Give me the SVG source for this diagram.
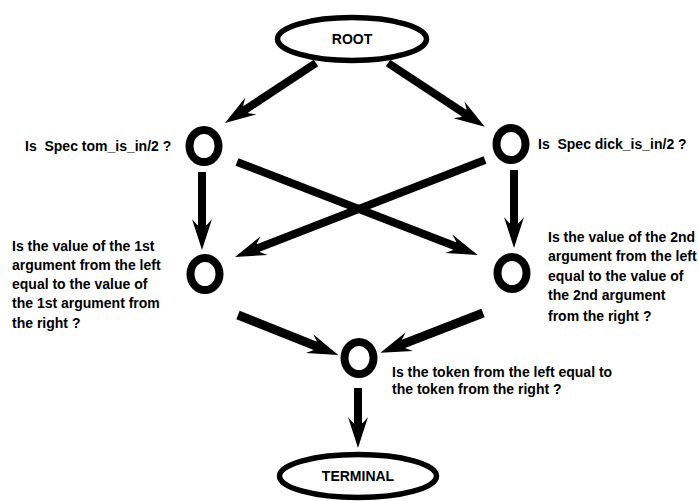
<svg xmlns="http://www.w3.org/2000/svg" width="699" height="501" viewBox="0 0 699 501">
<style>
  .bg { fill: #ffffff; }
  .node { fill: none; stroke: #000; stroke-width: 8; }
  .term { fill: none; stroke: #000; stroke-width: 5.5; }
  .lbl { font-family: "Liberation Sans", Arial, Helvetica, sans-serif; font-size: 14px; font-weight: bold; fill: #000; }
  .mid { text-anchor: middle; }
  .shaft { stroke: #000; stroke-width: 8; stroke-linecap: butt; }
  .thick { stroke-width: 9; }
  .head { fill: #000; }
</style>
<defs>
  <path id="ah" class="head" d="M0,0 L-31,-10 L-25,-4.8 L-25,4.8 L-31,10 Z"/>
</defs>
<rect class="bg" x="0" y="0" width="699" height="501"/>

<g id="connectors">
  <g transform="translate(316,63) rotate(146.6)"><line class="shaft" x1="0" y1="0" x2="85" y2="0"/><use href="#ah" x="109"/></g>
  <g transform="translate(388,63) rotate(33.4)"><line class="shaft" x1="0" y1="0" x2="92" y2="0"/><use href="#ah" x="116"/></g>
  <g transform="translate(202,172) rotate(90)"><line class="shaft" x1="0" y1="0" x2="54" y2="0"/><use href="#ah" x="78"/></g>
  <g transform="translate(514,170) rotate(90)"><line class="shaft" x1="0" y1="0" x2="54" y2="0"/><use href="#ah" x="78"/></g>
  <g transform="translate(237,162) rotate(21.1)"><line class="shaft" x1="0" y1="0" x2="234" y2="0"/><use href="#ah" x="258"/></g>
  <g transform="translate(485,160) rotate(158.8)"><line class="shaft" x1="0" y1="0" x2="244" y2="0"/><use href="#ah" x="268"/></g>
  <g transform="translate(238,315) rotate(21.8)"><line class="shaft thick" x1="0" y1="0" x2="84" y2="0"/><use href="#ah" x="108"/></g>
  <g transform="translate(483,313) rotate(158.8)"><line class="shaft thick" x1="0" y1="0" x2="86" y2="0"/><use href="#ah" x="110"/></g>
  <g transform="translate(358,388) rotate(90)"><line class="shaft" x1="0" y1="0" x2="36" y2="0"/><use href="#ah" x="60"/></g>
</g>

<g id="root">
  <ellipse class="term" cx="352" cy="39" rx="74.5" ry="21.5"/>
  <text class="lbl mid" x="352" y="44">ROOT</text>
</g>

<g id="spec-tom">
  <ellipse class="node" cx="204" cy="146" rx="14.5" ry="16"/>
  <text class="lbl" x="25" y="151" xml:space="preserve">Is  Spec tom_is_in/2 ?</text>
</g>

<g id="spec-dick">
  <ellipse class="node" cx="511" cy="144" rx="14.5" ry="16"/>
  <text class="lbl" x="538" y="149" xml:space="preserve">Is  Spec dick_is_in/2 ?</text>
</g>

<g id="arg1">
  <ellipse class="node" cx="205" cy="274" rx="14.5" ry="16"/>
  <text class="lbl" x="12" y="251">Is the value of the 1st</text>
  <text class="lbl" x="12" y="270">argument from the left</text>
  <text class="lbl" x="12" y="289">equal to the value of</text>
  <text class="lbl" x="12" y="308">the 1st argument from</text>
  <text class="lbl" x="12" y="328">the right ?</text>
</g>

<g id="arg2">
  <ellipse class="node" cx="512" cy="273" rx="14.5" ry="16"/>
  <text class="lbl" x="548" y="242">Is the value of the 2nd</text>
  <text class="lbl" x="548" y="261">argument from the left</text>
  <text class="lbl" x="548" y="281">equal to the value of</text>
  <text class="lbl" x="548" y="300">the 2nd argument</text>
  <text class="lbl" x="548" y="321">from the right ?</text>
</g>

<g id="token">
  <ellipse class="node" cx="359" cy="358" rx="14.5" ry="16"/>
  <text class="lbl" x="392" y="377">Is the token from the left equal to</text>
  <text class="lbl" x="392" y="394">the token from the right ?</text>
</g>

<g id="terminal">
  <ellipse class="term" cx="358" cy="476" rx="78.5" ry="21.5"/>
  <text class="lbl mid" x="358" y="481">TERMINAL</text>
</g>
</svg>
